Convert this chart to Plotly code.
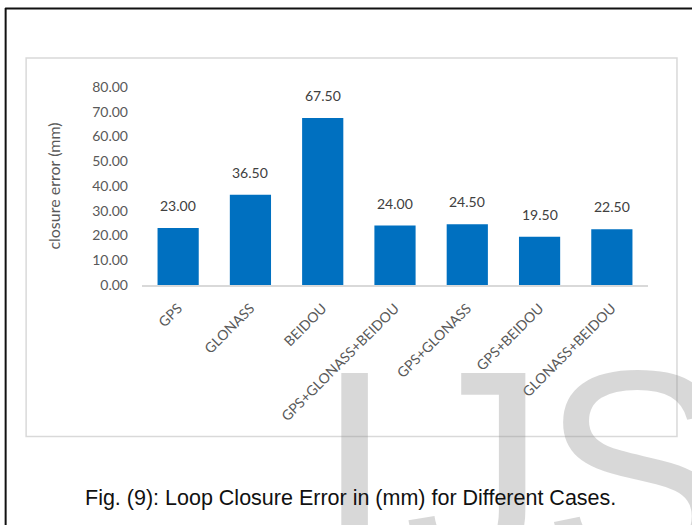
import plotly.graph_objects as go

# Loop closure error per GNSS constellation combination (mm)
cases = ["GPS", "GLONASS", "BEIDOU", "GPS+GLONASS+BEIDOU",
         "GPS+GLONASS", "GPS+BEIDOU", "GLONASS+BEIDOU"]
closure_error = [23.00, 36.50, 67.50, 24.00, 24.50, 19.50, 22.50]
y_ticks = [0, 10, 20, 30, 40, 50, 60, 70, 80]

caption = "Fig. (9): Loop Closure Error in (mm) for Different Cases."
y_title = "closure error (mm)"
# journal mark letters with their left pixel positions
mark_letters = ["I", "J", "S"]
mark_left = [314, 403, 540]

W, H = 692, 525
ML, MR, MT, MB = 142, 43.5, 87, 240
PW, PH = W - ML - MR, H - MT - MB


def px(x):
    """Pixel column -> paper x."""
    return (x - ML) / PW


def py(y):
    """Pixel row (from top) -> paper y."""
    return (H - MB - y) / PH


CHART_FONT = "Lato, Calibri, Carlito, sans-serif"
BLUE = "#0070C0"
GREY_TXT = "#595959"

fig = go.Figure()
fig.add_trace(go.Bar(
    x=cases, y=closure_error,
    marker=dict(color=BLUE, line=dict(width=0)),
    hoverinfo="x+y",
))

annotations = []
# large faint journal mark behind the caption
for letter, left in zip(mark_letters, mark_left):
    annotations.append(dict(
        text=letter, xref="paper", yref="paper",
        x=px(left), y=py(630), xanchor="left", yanchor="bottom",
        showarrow=False, borderpad=0,
        font=dict(family="Liberation Sans, Arial, sans-serif", size=285,
                  color="rgba(140,140,140,0.34)"),
    ))
# value labels above each bar
for c, v in zip(cases, closure_error):
    annotations.append(dict(
        text=f"{v:.2f}", x=c, y=v, xref="x", yref="y",
        yanchor="bottom", yshift=12, showarrow=False,
        font=dict(family=CHART_FONT, size=14, color="#404040"),
    ))
# figure caption
annotations.append(dict(
    text=caption, xref="paper", yref="paper",
    x=px(351), y=py(498), xanchor="center", yanchor="middle",
    showarrow=False,
    font=dict(family="Liberation Sans, Arial, sans-serif", size=21.5,
              color="#111111"),
))

shapes = [
    # chart frame
    dict(type="rect", xref="paper", yref="paper",
         x0=px(26), x1=px(677.5), y0=py(436.5), y1=py(58),
         line=dict(color="#d9d9d9", width=1.5), layer="below"),
    # page border (top and left)
    dict(type="line", xref="paper", yref="paper",
         x0=px(5), x1=px(700), y0=py(8.5), y1=py(8.5),
         line=dict(color="#111111", width=2)),
    dict(type="line", xref="paper", yref="paper",
         x0=px(5.5), x1=px(5.5), y0=py(8), y1=py(530),
         line=dict(color="#111111", width=2)),
]

fig.update_layout(
    width=W, height=H,
    margin=dict(l=ML, r=MR, t=MT, b=MB, autoexpand=False),
    paper_bgcolor="white", plot_bgcolor="white",
    showlegend=False,
    bargap=0.43,
    annotations=annotations,
    shapes=shapes,
    xaxis=dict(
        tickangle=-45, showgrid=False, showline=True,
        linecolor="#d9d9d9", linewidth=1.5, ticks="",
        ticklabelstandoff=8,
        tickfont=dict(family=CHART_FONT, size=14, color=GREY_TXT),
        automargin=False,
    ),
    yaxis=dict(
        range=[0, 80], tickvals=y_ticks, tickformat=".2f",
        showgrid=False, zeroline=False, showline=False, ticks="",
        ticklabelstandoff=13,
        tickfont=dict(family=CHART_FONT, size=14, color=GREY_TXT),
        title=dict(text=y_title, standoff=27,
                   font=dict(family=CHART_FONT, size=16, color=GREY_TXT)),
        automargin=False,
    ),
)

fig.write_html("out.html")
